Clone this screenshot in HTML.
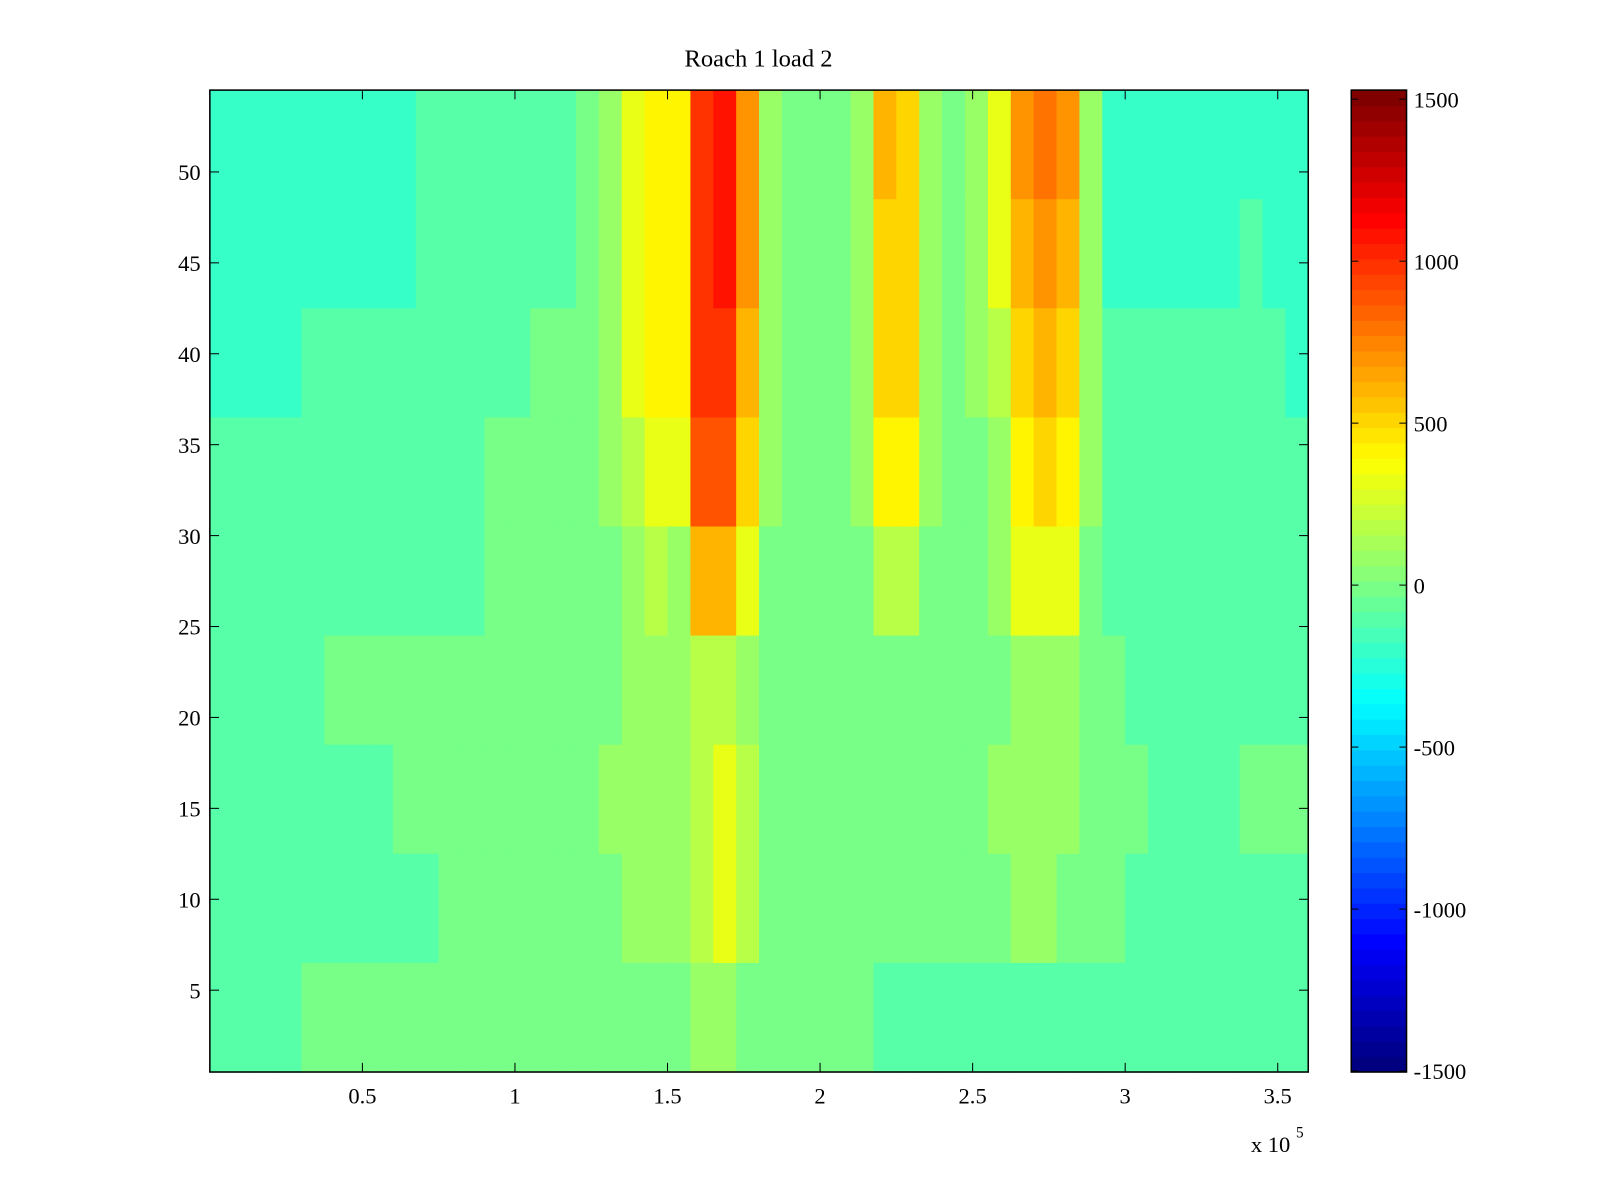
<!DOCTYPE html>
<html><head><meta charset="utf-8"><style>
html,body{margin:0;padding:0;background:#fff;}
svg{display:block;font-family:"Liberation Serif",serif;}
</style></head><body>
<svg id="chart" width="1600" height="1200" viewBox="0 0 1563 1172" preserveAspectRatio="none" xmlns="http://www.w3.org/2000/svg">
<rect width="1563" height="1172" fill="#fff"/>
<text x="741" y="65" font-size="24" text-anchor="middle">Roach 1 load 2</text>
<g id="cells"></g>
<rect x="205" y="88" width="1073" height="959" fill="none" stroke="#000" stroke-width="1.5"/>
<g id="axes"></g>
<text x="1222" y="1125" font-size="22">x 10</text>
<text x="1266" y="1111" font-size="15">5</text>
<g id="cbar"></g>
</svg>
<script>
// Row bands (inclusive row ranges) and column bins (x in units of 7500)
const rowBands = [[49,54],[43,48],[37,42],[31,36],[25,30],[19,24],[13,18],[7,12],[1,6]];
const colBinWidth = 7500;
// values in units of 100 per band (top band first), 48 bins
const band49 = [-2,-2,-2,-2,-2,-2,-2,-2,-2,-1,-1,-1,-1,-1,-1,-1,0,1,3,4,4,10,11,7,1,0,0,0,1,6,5,1,0,1,3,7,8,7,1,-2,-2,-2,-2,-2,-2,-2,-2,-2];
const band43 = [-2,-2,-2,-2,-2,-2,-2,-2,-2,-1,-1,-1,-1,-1,-1,-1,0,1,3,4,4,10,11,7,1,0,0,0,1,5,5,1,0,1,3,6,7,6,1,-2,-2,-2,-2,-2,-2,-1,-2,-2];
const band37 = [-2,-2,-2,-2,-1,-1,-1,-1,-1,-1,-1,-1,-1,-1,0,0,0,1,3,4,4,10,10,6,1,0,0,0,1,5,5,1,0,1,2,5,6,5,1,-1,-1,-1,-1,-1,-1,-1,-1,-2];
const band31 = [-1,-1,-1,-1,-1,-1,-1,-1,-1,-1,-1,-1,0,0,0,0,0,1,2,3,3,9,9,5,1,0,0,0,1,4,4,1,0,0,1,4,5,4,1,-1,-1,-1,-1,-1,-1,-1,-1,-1];
const band25 = [-1,-1,-1,-1,-1,-1,-1,-1,-1,-1,-1,-1,0,0,0,0,0,0,1,2,1,6,6,3,0,0,0,0,0,2,2,0,0,0,1,3,3,3,0,-1,-1,-1,-1,-1,-1,-1,-1,-1];
const band19 = [-1,-1,-1,-1,-1,0,0,0,0,0,0,0,0,0,0,0,0,0,1,1,1,2,2,1,0,0,0,0,0,0,0,0,0,0,0,1,1,1,0,0,-1,-1,-1,-1,-1,-1,-1,-1];
const band13 = [-1,-1,-1,-1,-1,-1,-1,-1,0,0,0,0,0,0,0,0,0,1,1,1,1,2,3,2,0,0,0,0,0,0,0,0,0,0,1,1,1,1,0,0,0,-1,-1,-1,-1,0,0,0];
const band7 = [-1,-1,-1,-1,-1,-1,-1,-1,-1,-1,0,0,0,0,0,0,0,0,1,1,1,2,3,2,0,0,0,0,0,0,0,0,0,0,0,1,1,0,0,0,-1,-1,-1,-1,-1,-1,-1,-1];
const band1 = [-1,-1,-1,-1,0,0,0,0,0,0,0,0,0,0,0,0,0,0,0,0,0,1,1,0,0,0,0,0,0,-1,-1,-1,-1,-1,-1,-1,-1,-1,-1,-1,-1,-1,-1,-1,-1,-1,-1,-1];
const bandValues = [band49,band43,band37,band31,band25,band19,band13,band7,band1];
const xTicks = [0.5,1,1.5,2,2.5,3,3.5];
const xTickLabels = ["0.5","1","1.5","2","2.5","3","3.5"];
const yTicks = [5,10,15,20,25,30,35,40,45,50];
const cTicks = [1500,1000,500,0,-500,-1000,-1500];

const NS="http://www.w3.org/2000/svg";
const PX0=205,PX1=1278,PY0=88,PY1=1047;
const xMin=0,xMax=360000,yMin=0.5,yMax=54.5;
const cMin=-1503,cMax=1528;
const xs=v=>PX0+(v-xMin)/(xMax-xMin)*(PX1-PX0);
const ys=v=>PY1-(v-yMin)/(yMax-yMin)*(PY1-PY0);
function jet(t){t=Math.max(0,Math.min(1,t));t=Math.floor(t*63.999)/63;
 const f=x=>Math.max(0,Math.min(1,x));
 const r=f(Math.min(4*t-1.5,-4*t+4.5)),g=f(Math.min(4*t-0.5,-4*t+3.5)),b=f(Math.min(4*t+0.5,-4*t+2.5));
 return `rgb(${Math.round(r*255)},${Math.round(g*255)},${Math.round(b*255)})`;}
const cs=v=>jet((v-cMin)/(cMax-cMin));
function mk(tag,attrs,parent){const e=document.createElementNS(NS,tag);for(const k in attrs)e.setAttribute(k,attrs[k]);parent.appendChild(e);return e;}
const cells=document.getElementById('cells');
rowBands.forEach((b,bi)=>{
 bandValues[bi].forEach((v,ci)=>{
  const x0=xs(ci*colBinWidth),x1=xs((ci+1)*colBinWidth);
  const y0=ys(b[1]+0.5),y1=ys(b[0]-0.5);
  const r=mk('rect',{x:x0,y:y0,width:x1-x0+0.6,height:y1-y0+0.6,fill:cs(v*100)},cells);
  
  
 });
});
const axes=document.getElementById('axes');
xTicks.forEach((t,i)=>{
 const x=xs(t*1e5);
 mk('line',{x1:x,y1:PY1,x2:x,y2:PY1-9,stroke:'#000'},axes);
 mk('line',{x1:x,y1:PY0,x2:x,y2:PY0+9,stroke:'#000'},axes);
 const tx=mk('text',{x:x,y:1078,'font-size':22,'text-anchor':'middle'},axes);
 tx.textContent=xTickLabels[i];
 
 
});
yTicks.forEach(t=>{
 const y=ys(t);
 mk('line',{x1:PX0,y1:y,x2:PX0+9,y2:y,stroke:'#000'},axes);
 mk('line',{x1:PX1,y1:y,x2:PX1-9,y2:y,stroke:'#000'},axes);
 const tx=mk('text',{x:196,y:y+8,'font-size':22,'text-anchor':'end'},axes);
 tx.textContent=String(t);
 
 
});
const cb=document.getElementById('cbar');
const CX0=1320,CX1=1374;
const cy=v=>PY1-(v-cMin)/(cMax-cMin)*(PY1-PY0);
for(let i=0;i<64;i++){
 const y0=PY1-(i+1)/64*(PY1-PY0),h=(PY1-PY0)/64;
 const r=mk('rect',{x:CX0,y:y0,width:CX1-CX0,height:h+0.5,fill:jet((i+0.5)/64)},cb);
 
 
}
mk('rect',{x:CX0,y:PY0,width:CX1-CX0,height:PY1-PY0,fill:'none',stroke:'#000','stroke-width':1.5},cb);
cTicks.forEach(t=>{
 const y=cy(t);
 mk('line',{x1:CX0,y1:y,x2:CX0+7,y2:y,stroke:'#000'},cb);
 mk('line',{x1:CX1,y1:y,x2:CX1-7,y2:y,stroke:'#000'},cb);
 const tx=mk('text',{x:1381,y:y+8,'font-size':22},cb);
 tx.textContent=String(t);
 
 
});
</script>
</body></html>
